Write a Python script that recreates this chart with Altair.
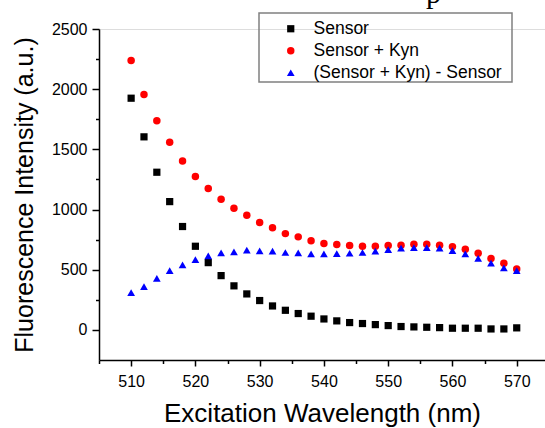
import altair as alt
import pandas as pd

wavelength = list(range(510, 571, 2))
sensor = [1925, 1604, 1310, 1066, 859, 695, 559, 451, 366, 299, 244, 199, 163, 136, 114,
          91, 75, 61, 53, 44, 36, 28, 25, 22, 19, 14, 14, 14, 8, 8, 17]
sensor_kyn = [2238, 1956, 1737, 1559, 1404, 1274, 1174, 1086, 1011, 953, 892, 848, 800, 773, 740,
              717, 709, 701, 695, 695, 701, 704, 712, 712, 704, 692, 670, 637, 593, 554, 507]
difference = [310, 360, 429, 493, 540, 584, 615, 640, 648, 662, 656, 654, 643, 640, 631,
              631, 634, 637, 643, 654, 667, 679, 684, 684, 679, 659, 631, 595, 554, 515, 493]

series_names = ["Sensor", "Sensor + Kyn", "(Sensor + Kyn) - Sensor"]
colors = ["#000000", "#ff0000", "#0000ff"]
shapes = ["square", "circle", "triangle-up"]
sizes = [52, 60, 130]

y_tick_values = list(range(0, 2501, 250))
x_tick_values = list(range(505, 571, 5))

rows = []
for name, vals in zip(series_names, [sensor, sensor_kyn, difference]):
    for w, v in zip(wavelength, vals):
        rows.append({"wavelength": w, "intensity": v, "series": name})
df = pd.DataFrame(rows)

FONT = "Liberation Sans"

leg = alt.Legend(orient="none", legendX=183, legendY=-9, labelFontSize=17.5, labelFont=FONT,
                 labelColor="black", labelOffset=14, rowPadding=3, padding=0,
                 symbolStrokeWidth=0, labelLimit=400)

points = alt.Chart(df).mark_point(filled=True, opacity=1, strokeWidth=0).encode(
    x=alt.X("wavelength:Q",
            scale=alt.Scale(domain=[505, 574.4], nice=False, zero=False),
            axis=alt.Axis(values=x_tick_values, format="d",
                          labelExpr="datum.value % 10 === 0 ? datum.label : ''",
                          labelOverlap=False, labelFlush=False,
                          tickSize={"condition": {"test": "datum.value % 10 === 0", "value": 6}, "value": 3.5},
                          title="Excitation Wavelength (nm)", titleFontSize=26, titleFont=FONT,
                          titleFontWeight="normal", titleColor="black",
                          titleX=223, titleY=61.5, titleAlign="center", titleBaseline="alphabetic",
                          grid=False, domainColor="black", domainWidth=1.5,
                          tickColor="black", tickWidth=1.5,
                          labelFontSize=16, labelFont=FONT, labelColor="black", labelPadding=7)),
    y=alt.Y("intensity:Q",
            scale=alt.Scale(domain=[-250, 2500], nice=False, zero=False),
            axis=alt.Axis(values=y_tick_values, format="d",
                          labelExpr="datum.value % 500 === 0 ? datum.label : ''",
                          labelOverlap=False,
                          tickSize={"condition": {"test": "datum.value % 500 === 0", "value": 7}, "value": 3.5},
                          title="Fluorescence Intensity (a.u.)", titleFontSize=25, titleFont=FONT,
                          titleFontWeight="normal", titleColor="black",
                          titleX=-67, titleY=165.5, titleAngle=270, titleAlign="center",
                          titleBaseline="alphabetic",
                          grid=False, domainColor="black", domainWidth=1.5,
                          tickColor="black", tickWidth=1.5,
                          labelFontSize=16, labelFont=FONT, labelColor="black", labelPadding=5)),
    color=alt.Color("series:N", title=None,
                    scale=alt.Scale(domain=series_names, range=colors), legend=leg),
    shape=alt.Shape("series:N", title=None,
                    scale=alt.Scale(domain=series_names, range=shapes), legend=leg),
    size=alt.Size("series:N", title=None,
                  scale=alt.Scale(domain=series_names, range=sizes), legend=leg),
)

frame = alt.Chart(pd.DataFrame({"a": [0]})).mark_rect(
    fillOpacity=0, stroke="#808080", strokeWidth=1.5
).encode(x=alt.value(160), x2=alt.value(413), y=alt.value(-16), y2=alt.value(53))

crop_text = alt.Chart(pd.DataFrame({"a": [0]})).mark_text(
    text="p", font="Liberation Serif", fontSize=30, align="left", baseline="alphabetic", color="black"
).encode(x=alt.value(327), y=alt.value(-26.5))

chart = alt.layer(frame, crop_text, points).properties(
    width=446, height=331,
    padding={"left": 99, "top": 29, "right": 0, "bottom": 68},
    autosize=alt.AutoSizeParams(type="none"),
    background="white",
).configure_view(strokeWidth=0).configure(font=FONT)

chart.save("out.html", embed_options={"renderer": "svg", "actions": False})
